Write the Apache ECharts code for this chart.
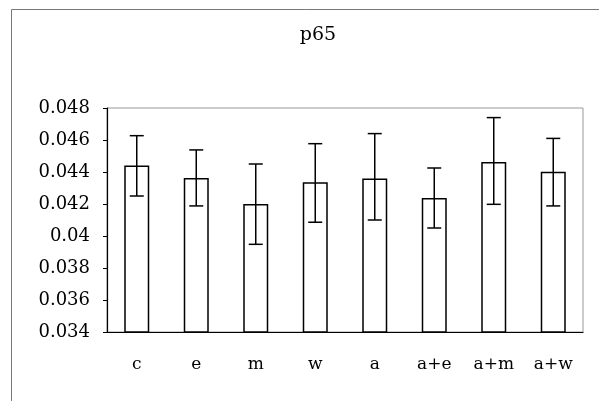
<!DOCTYPE html>
<html>
<head>
<meta charset="utf-8">
<script src="https://cdn.jsdelivr.net/npm/echarts@6/dist/echarts.min.js"></script>
<style>
	html, body { margin: 0; padding: 0; background: #fff; }
	#chart { width: 599px; height: 401px; }
</style>
</head>
<body>
<div id="chart"></div>
<script>
var categories = ['c', 'e', 'm', 'w', 'a', 'a+e', 'a+m', 'a+w'];
var means = [0.0444, 0.04363, 0.0420, 0.04336, 0.0436, 0.04238, 0.04463, 0.04402];
var errHigh = [0.04627, 0.04538, 0.0445, 0.04577, 0.0464, 0.04425, 0.0474, 0.0461];
var errLow = [0.0425, 0.04188, 0.03948, 0.04086, 0.0410, 0.0405, 0.04198, 0.04188];
var yTicks = [0.034, 0.036, 0.038, 0.04, 0.042, 0.044, 0.046, 0.048];

var chart = echarts.init(document.getElementById('chart'));

var serif = '"DejaVu Serif", "Liberation Serif", serif';

var errData = categories.map(function(c, i) {
	return [i, errLow[i], errHigh[i]];
});

var option = {
	backgroundColor: '#fff',
	animation: false,
	title: {
		text: 'p65',
		left: 313,
		top: 21,
		textAlign: 'center',
		textStyle: { fontFamily: serif, fontSize: 19, fontWeight: 'normal', color: '#000' }
	},
	graphic: [{
		type: 'rect',
		shape: { x: 11.5, y: 9.5, width: 600, height: 400 },
		style: { fill: 'none', stroke: '#777', lineWidth: 1 }
	}],
	grid: {
		left: 107,
		right: 16,
		top: 108,
		bottom: 69,
		show: true,
		borderColor: '#999',
		borderWidth: 1,
		backgroundColor: 'transparent'
	},
	xAxis: {
		type: 'category',
		data: categories,
		axisLine: { lineStyle: { color: '#000', width: 1.2 } },
		axisTick: { inside: true, length: 4, lineStyle: { color: '#000' } },
		axisLabel: { fontFamily: serif, fontSize: 17, color: '#000', margin: 24 }
	},
	yAxis: {
		type: 'value',
		min: 0.034,
		max: 0.048,
		interval: 0.002,
		axisLine: { show: true, lineStyle: { color: '#000', width: 1.2 } },
		axisTick: { show: true, length: 4, lineStyle: { color: '#000' } },
		splitLine: { show: false },
		axisLabel: {
			fontFamily: serif, fontSize: 18, color: '#000', margin: 17,
			formatter: function(v) {
				var idx = yTicks.findIndex(function(t) { return Math.abs(t - v) < 1e-9; });
				return idx >= 0 ? String(yTicks[idx]) : '';
			}
		}
	},
	series: [{
		type: 'bar',
		data: means,
		barWidth: 25,
		itemStyle: { color: '#fff', borderColor: '#000', borderWidth: 1.5 }
	}, {
		type: 'custom',
		data: errData,
		z: 10,
		renderItem: function(params, api) {
			var lo = api.coord([api.value(0), api.value(1)]);
			var hi = api.coord([api.value(0), api.value(2)]);
			var half = 7;
			var style = { stroke: '#000', lineWidth: 1.5 };
			return {
				type: 'group',
				children: [{
					type: 'line',
					shape: { x1: hi[0], y1: hi[1], x2: lo[0], y2: lo[1] },
					style: style
				}, {
					type: 'line',
					shape: { x1: hi[0] - half, y1: hi[1], x2: hi[0] + half, y2: hi[1] },
					style: style
				}, {
					type: 'line',
					shape: { x1: lo[0] - half, y1: lo[1], x2: lo[0] + half, y2: lo[1] },
					style: style
				}]
			};
		}
	}]
};

chart.setOption(option);
</script>
</body>
</html>
